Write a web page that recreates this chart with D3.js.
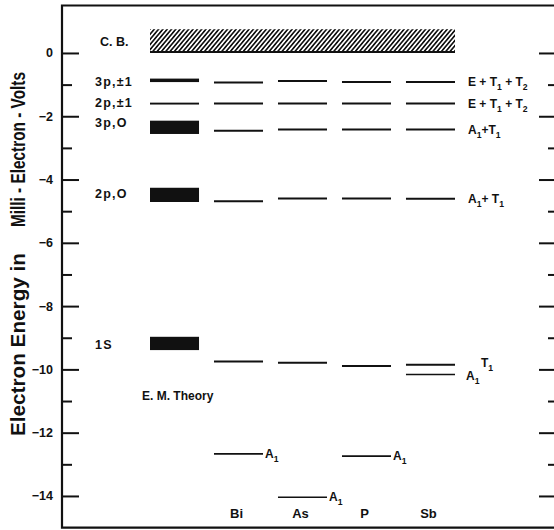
<!DOCTYPE html>
<html>
<head>
<meta charset="utf-8">
<script src="https://cdn.jsdelivr.net/npm/d3@7"></script>
<style>
  body { margin: 0; background: #fff; }
  svg { display: block; font-family: "Liberation Sans", Arial, sans-serif; font-weight: bold; }
  .tick text { font-size: 12.5px; font-weight: bold; fill: #111; font-family: "Liberation Sans", Arial, sans-serif; }
</style>
</head>
<body>
<div id="chart"></div>
<script>
// columns along the bottom
const columns = ["E.M. Theory", "Bi", "As", "P", "Sb"];
const donors = ["Bi", "As", "P", "Sb"];

// effective-mass theory states (drawn as bands, meV)
const emStates = ["3p,±1", "2p,±1", "3p,O", "2p,O", "1S"];
const emTop = [-0.81, -1.57, -2.14, -4.26, -8.97];
const emBottom = [-0.92, -1.63, -2.56, -4.71, -9.39];

// measured levels per donor, same order: 3p±1, 2p±1, 3p0, 2p0, 1s(T1), 1s(A1)
const biLevels = [-0.93, -1.60, -2.46, -4.69, -9.75, -12.67];
const asLevels = [-0.885, -1.60, -2.42, -4.60, -9.79, -14.04];
const pLevels = [-0.92, -1.60, -2.42, -4.60, -9.89, -12.74];
const sbLevels = [-0.92, -1.60, -2.42, -4.61, -9.85, -10.16];

// conduction band top of hatched area
const cbTop = 0.75;

// symmetry labels (at the Sb column), "_" marks a subscript
const symLabels = ["E + T_1 + T_2", "E + T_1 + T_2", "A_1+T_1", "A_1+ T_1"];

// axis ticks
const majorTicks = [0, -2, -4, -6, -8, -10, -12, -14];
const minorTicks = [-1, -3, -5, -7, -9, -11, -13];

const W = 554, H = 530;
const svg = d3.select("#chart").append("svg")
    .attr("width", W)
    .attr("height", H);

const y = d3.scaleLinear().domain([-15, 1.5]).range([527.6, 5.5]);
const x = d3.scaleBand().domain(columns).range([150, 455])
    .paddingInner(0.234).paddingOuter(0);

const ink = "#111";
const levelTable = { Bi: biLevels, As: asLevels, P: pLevels, Sb: sbLevels };

// hatch pattern for conduction band
const defs = svg.append("defs");
const pat = defs.append("pattern")
    .attr("id", "hatch")
    .attr("width", 3.3).attr("height", 8)
    .attr("patternUnits", "userSpaceOnUse")
    .attr("patternTransform", "rotate(40)");
pat.append("line")
    .attr("x1", 1.65).attr("y1", 0).attr("x2", 1.65).attr("y2", 8)
    .attr("stroke", ink).attr("stroke-width", 1.7);

// frame
const x0 = 62, x1 = 554;
svg.append("path")
    .attr("d", `M${x1 + 2},${y(1.5)} H${x0} V${y(-15)} H${x1 + 2}`)
    .attr("fill", "none").attr("stroke", ink).attr("stroke-width", 2.2);

// left axis
const fmt = d => d < 0 ? "\u2212" + (-d) : d;
const left = svg.append("g").attr("transform", `translate(${x0},0)`)
    .call(d3.axisLeft(y).tickValues(majorTicks).tickSize(-17).tickPadding(9).tickFormat(fmt));
left.select(".domain").remove();
const leftMinor = svg.append("g").attr("transform", `translate(${x0},0)`)
    .call(d3.axisLeft(y).tickValues(minorTicks).tickSize(-10).tickFormat(""));
leftMinor.select(".domain").remove();

// right axis
const right = svg.append("g").attr("transform", `translate(${x1},0)`)
    .call(d3.axisRight(y).tickValues(majorTicks).tickSize(-15).tickFormat(""));
right.select(".domain").remove();
const rightMinor = svg.append("g").attr("transform", `translate(${x1},0)`)
    .call(d3.axisRight(y).tickValues(minorTicks).tickSize(-6).tickFormat(""));
rightMinor.select(".domain").remove();
svg.selectAll(".tick line").attr("stroke", ink).attr("stroke-width", 2);

// y label (two parts, hand lettered spacing)
const ylab = svg.append("g").attr("transform", "translate(25,0) rotate(-90)")
    .style("font-size", "20px").style("fill", ink);
ylab.append("text").attr("x", -436).attr("y", 0)
    .attr("textLength", 183).attr("lengthAdjust", "spacingAndGlyphs")
    .text("Electron  Energy  in");
ylab.append("text").attr("x", -227).attr("y", 0)
    .attr("textLength", 155).attr("lengthAdjust", "spacingAndGlyphs")
    .text("Milli - Electron - Volts");

// conduction band
svg.append("rect")
    .attr("x", x(columns[0]))
    .attr("y", y(cbTop))
    .attr("width", x(columns[columns.length - 1]) + x.bandwidth() - x(columns[0]))
    .attr("height", y(0) - y(cbTop))
    .attr("fill", "url(#hatch)");
svg.append("line")
    .attr("x1", x(columns[0])).attr("x2", x(columns[columns.length - 1]) + x.bandwidth())
    .attr("y1", y(0) - 1).attr("y2", y(0) - 1)
    .attr("stroke", ink).attr("stroke-width", 2);
svg.append("text").attr("x", 100).attr("y", y(0.35) + 4)
    .style("font-size", "12.5px").style("fill", ink).text("C. B.");

// EM theory bands
svg.append("g").selectAll("rect")
    .data(emStates)
    .join("rect")
    .attr("x", x("E.M. Theory"))
    .attr("y", (d, i) => y(emTop[i]))
    .attr("width", x.bandwidth())
    .attr("height", (d, i) => y(emBottom[i]) - y(emTop[i]))
    .attr("fill", ink);

const labelNudge = [5.5, 3.3, 0, 3, 6];
svg.append("g").selectAll("text")
    .data(emStates)
    .join("text")
    .attr("x", 95)
    .attr("y", (d, i) => (y(emTop[i]) + y(emBottom[i])) / 2 + labelNudge[i])
    .style("font-size", "12.5px")
    .style("letter-spacing", "1.2px")
    .style("fill", ink)
    .text(d => d);

svg.append("text").attr("x", 142).attr("y", 400)
    .style("font-size", "12px").style("fill", ink).text("E. M. Theory");

// donor levels
const levelData = [];
donors.forEach(k => levelTable[k].forEach((v, i) => levelData.push({ donor: k, v: v, i: i })));
svg.append("g").selectAll("line")
    .data(levelData)
    .join("line")
    .attr("x1", d => x(d.donor))
    .attr("x2", d => x(d.donor) + x.bandwidth())
    .attr("y1", d => y(d.v))
    .attr("y2", d => y(d.v))
    .attr("stroke", ink)
    .attr("stroke-width", d => d.i === 5 ? 1.6 : 2);

// helper for labels with subscripts
function subText(sel, str, size) {
    const shift = Math.round(size * 0.3);
    let down = false;
    str.split(/(_.)/).filter(p => p).forEach(part => {
        if (part[0] === "_") {
            sel.append("tspan").attr("dy", shift).style("font-size", (size * 0.72) + "px").text(part[1]);
            down = true;
        } else {
            sel.append("tspan").attr("dy", down ? -shift : 0).text(part);
            down = false;
        }
    });
}

// symmetry labels to the right of Sb
const xr = x("Sb") + x.bandwidth();
symLabels.forEach((s, i) => {
    const t = svg.append("text").attr("x", xr + 13).attr("y", y(sbLevels[i]) + 4)
        .attr("xml:space", "preserve")
        .style("font-size", "12px").style("fill", ink);
    subText(t, s, 12);
});

// A1 labels on lowest levels
["Bi", "As", "P"].forEach(k => {
    const t = svg.append("text").attr("x", x(k) + x.bandwidth() + 2)
        .attr("y", y(levelTable[k][5]) + 4)
        .style("font-size", "12px").style("fill", ink);
    subText(t, "A_1", 12);
});
const tA = svg.append("text").attr("x", xr + 11).attr("y", y(sbLevels[5]) + 6)
    .style("font-size", "12px").style("fill", ink);
subText(tA, "A_1", 12);
const tT = svg.append("text").attr("x", xr + 26).attr("y", y(sbLevels[4]) + 2)
    .style("font-size", "12px").style("fill", ink);
subText(tT, "T_1", 12);

// column names along the bottom
svg.append("g").selectAll("text")
    .data(donors)
    .join("text")
    .attr("x", d => x(d) + x.bandwidth() / 2 - 2)
    .attr("y", 518)
    .attr("text-anchor", "middle")
    .style("font-size", "13px")
    .style("fill", ink)
    .text(d => d);
</script>
</body>
</html>
